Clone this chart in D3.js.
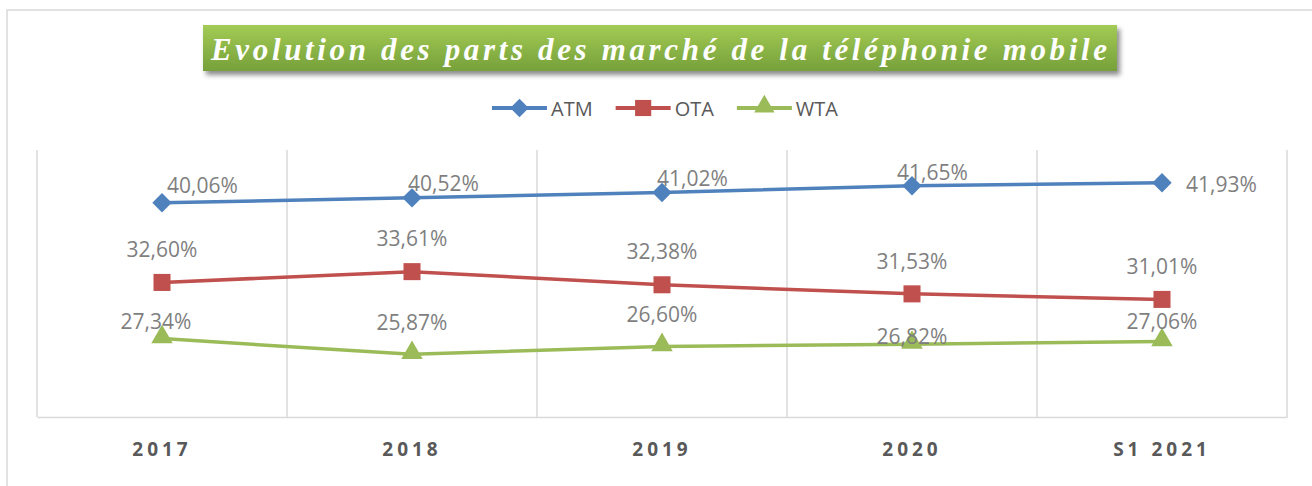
<!DOCTYPE html>
<html>
<head>
<meta charset="utf-8">
<script src="https://cdn.jsdelivr.net/npm/d3@7"></script>
<style>
  body { margin: 0; background: #fff; }
  svg { display: block; }
</style>
</head>
<body>
<script>
var width = 1312, height = 486;

// data
var categories = ["2017", "2018", "2019", "2020", "S1 2021"];
var atm = [40.06, 40.52, 41.02, 41.65, 41.93];
var ota = [32.60, 33.61, 32.38, 31.53, 31.01];
var wta = [27.34, 25.87, 26.60, 26.82, 27.06];
var seriesNames = ["ATM", "OTA", "WTA"];
var title = "Evolution des parts des marché de la téléphonie mobile";

// label nudges (dx, dy, anchor) relative to each point -- hand placed in the original
var atmNudge = [[5, -10, "start"], [-4, -7, "start"], [-5, -7, "start"], [-15, -6, "start"], [24, 9, "start"]];
var otaNudge = [[0, -25, "middle"], [0, -26, "middle"], [0, -26, "middle"], [0, -25, "middle"], [0, -25, "middle"]];
var wtaNudge = [[-6, -10, "middle"], [0, -24, "middle"], [0, -25, "middle"], [0, 0, "middle"], [0, -13, "middle"]];

var colors = { ATM: "#4f81bd", OTA: "#c0504d", WTA: "#9bbb59" };
var shapes = { ATM: d3.symbolDiamond2, OTA: d3.symbolSquare, WTA: d3.symbolTriangle };

var series = [
  { name: "ATM", values: atm, nudge: atmNudge },
  { name: "OTA", values: ota, nudge: otaNudge },
  { name: "WTA", values: wta, nudge: wtaNudge }
];

var svg = d3.select("body").append("svg")
    .attr("width", width)
    .attr("height", height);

var defs = svg.append("defs");
var grad = defs.append("linearGradient")
    .attr("id", "titleGrad")
    .attr("x1", 0).attr("y1", 0).attr("x2", 0).attr("y2", 1);
grad.append("stop").attr("offset", "0%").attr("stop-color", "#a3cb55");
grad.append("stop").attr("offset", "100%").attr("stop-color", "#76a03a");
var shadow = defs.append("filter").attr("id", "shadow")
    .attr("x", "-5%").attr("y", "-30%").attr("width", "110%").attr("height", "170%");
shadow.append("feDropShadow")
    .attr("dx", 3).attr("dy", 4).attr("stdDeviation", 2.5)
    .attr("flood-color", "#000").attr("flood-opacity", 0.45);

// outer frame (runs off the right and bottom edges)
svg.append("rect")
    .attr("x", 7).attr("y", 10)
    .attr("width", 1400).attr("height", 600)
    .attr("fill", "none")
    .attr("stroke", "#d9d9d9")
    .attr("stroke-width", 1.5);

// title box
svg.append("rect")
    .attr("x", 203).attr("y", 25)
    .attr("width", 914).attr("height", 46)
    .attr("fill", "url(#titleGrad)")
    .attr("filter", "url(#shadow)");

svg.append("text")
    .attr("x", 211).attr("y", 60)
    .attr("textLength", 896)
    .attr("lengthAdjust", "spacing")
    .attr("fill", "#fff")
    .style("font-family", "'Liberation Serif', 'DejaVu Serif', serif")
    .style("font-style", "italic")
    .style("font-weight", "bold")
    .style("font-size", "31px")
    .text(title);

// scales
var x = d3.scaleBand().domain(categories).range([37, 1287]);
var y = d3.scaleLinear().domain([20, 45]).range([417, 150]);
var cx = function(i) { return x(categories[i]) + x.bandwidth() / 2; };

// vertical gridlines at band edges
var edges = [x.range()[0]].concat(categories.map(function(c) { return x(c) + x.bandwidth(); }));
svg.append("g").selectAll("line")
    .data(edges)
  .enter().append("line")
    .attr("x1", function(d) { return d; })
    .attr("x2", function(d) { return d; })
    .attr("y1", y.range()[1])
    .attr("y2", y.range()[0])
    .attr("stroke", "#d9d9d9")
    .attr("stroke-width", 1.5);

// x axis
var xAxis = svg.append("g")
    .attr("transform", "translate(0," + y.range()[0] + ")")
    .call(d3.axisBottom(x).tickSize(0).tickSizeOuter(0));
xAxis.select(".domain").attr("stroke", "#d9d9d9").attr("stroke-width", 1.5);
xAxis.selectAll("text")
    .attr("y", 39)
    .attr("dy", null)
    .attr("fill", "#595959")
    .style("font-family", "'Open Sans', sans-serif")
    .style("font-weight", "bold")
    .style("font-size", "19px")
    .style("letter-spacing", "4px");

var line = d3.line()
    .x(function(d, i) { return cx(i); })
    .y(function(d) { return y(d); });

var sym = function(name, size) {
  return d3.symbol().type(shapes[name]).size(size)();
};
var markerSize = { ATM: 240, OTA: 290, WTA: 200 };

var g = svg.append("g");
series.forEach(function(s) {
  g.append("path")
      .datum(s.values)
      .attr("d", line)
      .attr("fill", "none")
      .attr("stroke", colors[s.name])
      .attr("stroke-width", 3.5);

  g.selectAll(".m-" + s.name)
      .data(s.values)
    .enter().append("path")
      .attr("class", "m-" + s.name)
      .attr("d", sym(s.name, markerSize[s.name]))
      .attr("transform", function(d, i) {
        var dy = s.name === "WTA" ? -1.5 : 0;
        return "translate(" + cx(i) + "," + (y(d) + dy) + ")";
      })
      .attr("fill", colors[s.name]);
});

// data labels
series.forEach(function(s) {
  g.selectAll(".l-" + s.name)
      .data(s.values)
    .enter().append("text")
      .attr("class", "l-" + s.name)
      .attr("x", function(d, i) { return cx(i) + s.nudge[i][0]; })
      .attr("y", function(d, i) { return y(d) + s.nudge[i][1]; })
      .attr("text-anchor", function(d, i) { return s.nudge[i][2]; })
      .attr("fill", "#7f7f7f")
      .style("font-family", "'Open Sans', sans-serif")
      .style("font-size", "21px")
      .text(function(d) { return d.toFixed(2).replace(".", ",") + "%"; });
});

// legend
var legend = svg.append("g");
var lx = 0;
seriesNames.forEach(function(name, i) {
  var item = legend.append("g").attr("transform", "translate(" + lx + ",0)");
  item.append("line")
      .attr("x1", 0).attr("x2", 55)
      .attr("y1", 108).attr("y2", 108)
      .attr("stroke", colors[name])
      .attr("stroke-width", 4);
  item.append("path")
      .attr("d", sym(name, markerSize[name] * 0.9))
      .attr("transform", "translate(27.5," + (name === "WTA" ? 106.5 : 108) + ")")
      .attr("fill", colors[name]);
  var t = item.append("text")
      .attr("x", 59).attr("y", 116)
      .attr("fill", "#595959")
      .style("font-family", "'Open Sans', sans-serif")
      .style("font-size", "20px")
      .text(name);
  lx += 59 + t.node().getComputedTextLength() + 23;
});
var legendW = lx - 23;
legend.attr("transform", "translate(" + (665 - legendW / 2) + ",0)");
</script>
</body>
</html>
